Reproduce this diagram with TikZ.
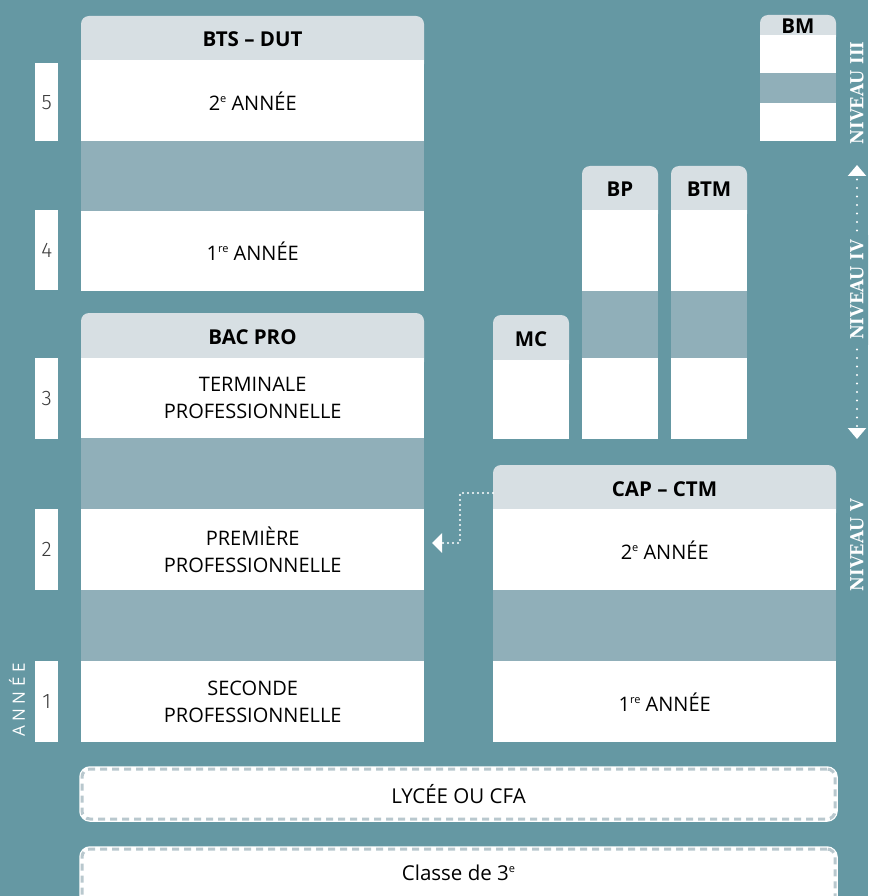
\documentclass[tikz,border=0pt]{standalone}
\usepackage{fontspec}
\setmainfont{Open Sans}
\newfontfamily\lightf{Fira Sans Light}
\newfontfamily\slabf{DejaVu Serif Condensed}
\usetikzlibrary{arrows.meta}
\definecolor{bgc}{HTML}{6598A3}
\definecolor{bandc}{HTML}{90AFB9}
\definecolor{hdrc}{HTML}{D7DFE3}
\definecolor{dashc}{HTML}{B9C8CE}
\definecolor{numc}{HTML}{3A3A3A}
\newcommand\expo[1]{\raisebox{0.72ex}{\fontsize{11}{11}\selectfont #1}}
\tikzset{
  hdr/.style={fill=hdrc, rounded corners=8pt},
  cell/.style={inner sep=0pt, anchor=north west, align=center, text=black,
    font=\fontsize{20}{27}\selectfont},
  wrow/.style={cell, fill=white},
  bandrow/.style={cell, fill=bandc},
  hlbl/.style={font=\bfseries\fontsize{20.5}{21}\selectfont, text=black, inner sep=0pt},
  numbox/.style={fill=white, inner sep=0pt, anchor=north west, minimum width=23pt,
    text=numc, font=\lightf\fontsize{21}{21}\selectfont},
  niv/.style={rotate=90, text=white, inner sep=3pt, fill=bgc,
    font=\slabf\bfseries\fontsize{18}{18}\selectfont},
  nivline/.style={white, line width=2.2pt, line cap=round, dash pattern=on 0pt off 8.5pt},
  dotline/.style={white, line width=2.2pt, line cap=round, dash pattern=on 0pt off 5pt},
  tip/.style={-{Triangle[width=18pt,length=11pt]}},
  ltip/.style={-{Triangle[width=19pt,length=10pt]}},
  dbox/.style={fill=white, rounded corners=8pt, draw=dashc, line width=3pt,
    dash pattern=on 7pt off 5pt, inner sep=0pt,
    preaction={draw=white, line width=5.5pt, solid},
    font=\fontsize{20.5}{22}\selectfont, text=black}
}
\begin{document}
\begin{tikzpicture}[x=1pt,y=-1pt]
\useasboundingbox (0,0) rectangle (868,896);
\clip (0,0) rectangle (868,896);
\fill[bgc] (0,0) rectangle (868,896);

% ---- BTS - DUT
\fill[hdr] (81,16) rectangle (424,72);
\node[hlbl] (btsh) at (252.5,39) {BTS – DUT};
\node[wrow, minimum width=343pt, minimum height=81pt] (bts2) at (81,60) {2\expo{e} ANNÉE};
\node[bandrow, minimum width=343pt, minimum height=70pt] (btsg) at (81,141) {};
\node[wrow, minimum width=343pt, minimum height=80pt] (bts1) at (81,211) {1\expo{re} ANNÉE};

% ---- BAC PRO
\fill[hdr] (81,313) rectangle (424,370);
\node[hlbl] (bach) at (252.5,337) {BAC PRO};
\node[wrow, minimum width=343pt, minimum height=80pt] (term) at (81,358) {TERMINALE\\PROFESSIONNELLE};
\node[bandrow, minimum width=343pt, minimum height=71pt] (bacg1) at (81,438) {};
\node[wrow, minimum width=343pt, minimum height=81pt] (prem) at (81,509) {PREMIÈRE\\PROFESSIONNELLE};
\node[bandrow, minimum width=343pt, minimum height=71pt] (bacg2) at (81,590) {};
\node[wrow, minimum width=343pt, minimum height=81pt] (sec) at (81,661) {SECONDE\\PROFESSIONNELLE};

% ---- CAP - CTM
\fill[hdr] (493,465) rectangle (836,521);
\node[hlbl] (caph) at (664.5,489) {CAP – CTM};
\node[wrow, minimum width=343pt, minimum height=81pt] (cap2) at (493,509) {2\expo{e} ANNÉE};
\node[bandrow, minimum width=343pt, minimum height=71pt] (capg) at (493,590) {};
\node[wrow, minimum width=343pt, minimum height=81pt] (cap1) at (493,661) {1\expo{re} ANNÉE};

% ---- MC
\fill[hdr] (493,315) rectangle (569,372);
\node[hlbl] (mch) at (531,339) {MC};
\node[wrow, minimum width=76pt, minimum height=79pt] (mc1) at (493,360) {};

% ---- BP
\fill[hdr] (582,166) rectangle (658,222);
\node[hlbl] (bph) at (620,189) {BP};
\node[wrow, minimum width=76pt, minimum height=81pt] (bp1) at (582,210) {};
\node[bandrow, minimum width=76pt, minimum height=67pt] (bpg) at (582,291) {};
\node[wrow, minimum width=76pt, minimum height=81pt] (bp2) at (582,358) {};

% ---- BTM
\fill[hdr] (671,166) rectangle (747,222);
\node[hlbl] (btmh) at (709,189) {BTM};
\node[wrow, minimum width=76pt, minimum height=81pt] (btm1) at (671,210) {};
\node[bandrow, minimum width=76pt, minimum height=67pt] (btmg) at (671,291) {};
\node[wrow, minimum width=76pt, minimum height=81pt] (btm2) at (671,358) {};

% ---- BM
\fill[hdr] (760,15) rectangle (836,45);
\node[hlbl] (bmh) at (798,26) {BM};
\node[wrow, minimum width=76pt, minimum height=38pt] (bm1) at (760,35) {};
\node[bandrow, minimum width=76pt, minimum height=30pt] (bmg) at (760,73) {};
\node[wrow, minimum width=76pt, minimum height=38pt] (bm2) at (760,103) {};

% ---- year numbers
\node[numbox, minimum height=78pt] (y5) at (35,63) {5};
\node[numbox, minimum height=80pt] (y4) at (35,210) {4};
\node[numbox, minimum height=81pt] (y3) at (35,358) {3};
\node[numbox, minimum height=81pt] (y2) at (35,509) {2};
\node[numbox, minimum height=81pt] (y1) at (35,661) {1};
\node[rotate=90, text=white, inner sep=0pt, font=\fontsize{17}{17}\selectfont] (annee) at (17,700)
  {A\hspace{4.5pt}N\hspace{4.5pt}N\hspace{4.5pt}É\hspace{4.5pt}E};

% ---- niveaux
\node[niv] (n3) at (857,93) {NIVEAU III};
\coordinate (n4a) at (857,290);
\coordinate (n4top) at (857,165);
\coordinate (n4bot) at (857,439);
\draw[nivline, tip] (n4a) -- (n4top);
\draw[nivline, tip] (n4a) -- (n4bot);
\node[niv, inner sep=5pt] (n4) at (n4a) {NIVEAU IV};
\node[niv] (n5) at (857,545) {NIVEAU V};

% ---- passerelle
\coordinate (c0) at (493,493);
\coordinate (c1) at (460,493);
\coordinate (c2) at (460,543);
\coordinate (ctip) at (432,543);
\draw[dotline, ltip] (c0) -- (c1) -- (c2) -- (ctip);

% ---- bottom boxes
\node[dbox, minimum width=753pt, minimum height=50pt] (lycee) at (458.5,794) {LYCÉE OU CFA};
\node[dbox, minimum width=753pt, minimum height=56pt] (classe) at (458.5,877) {};
\node[font=\fontsize{20.5}{22}\selectfont, text=black, inner sep=0pt] (classet) at (458.5,873) {Classe de 3\expo{e}};
\end{tikzpicture}
\end{document}
